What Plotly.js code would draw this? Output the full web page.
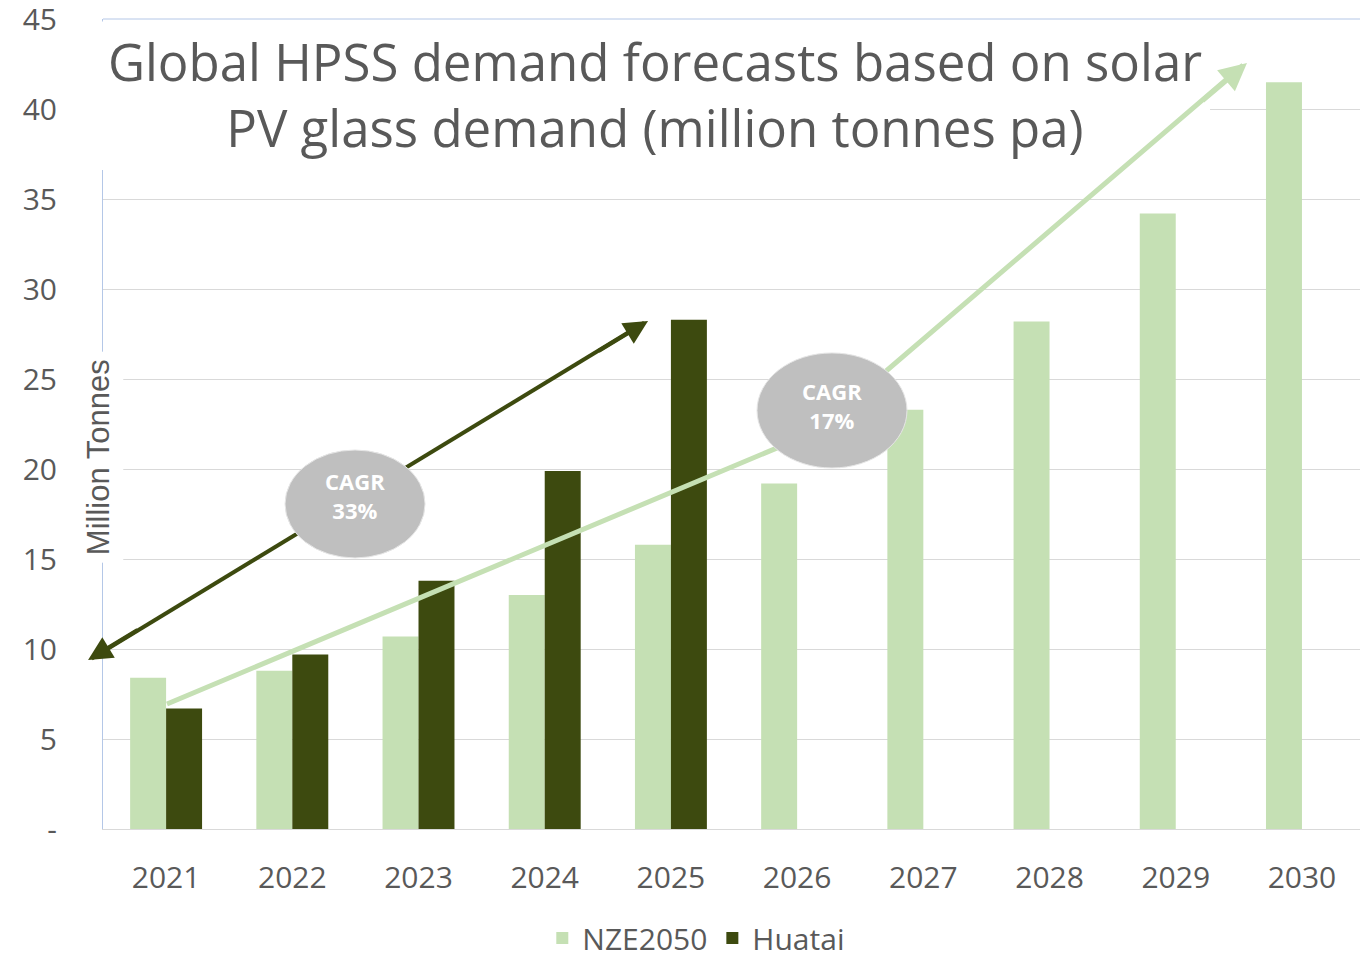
<!DOCTYPE html>
<html>
<head>
<meta charset="utf-8">
<script src="https://cdn.plot.ly/plotly-3.0.1.min.js"></script>
<style>html,body{margin:0;padding:0;background:#fff;}#chart{width:1360px;height:959px;}</style>
</head>
<body>
<div id="chart"></div>
<script>
// ---- data ----
const years = [2021, 2022, 2023, 2024, 2025, 2026, 2027, 2028, 2029, 2030];
const nze2050 = [8.4, 8.8, 10.7, 13.0, 15.8, 19.2, 23.3, 28.2, 34.2, 41.5];
const huataiYears = [2021, 2022, 2023, 2024, 2025];
const huatai = [6.7, 9.7, 13.8, 19.9, 28.3];
const yTickVals = [0, 5, 10, 15, 20, 25, 30, 35, 40, 45];
const yTickText = ['-', '5', '10', '15', '20', '25', '30', '35', '40', '45'];
const cagrLabels = ['CAGR<br>33%', 'CAGR<br>17%'];
const seriesNames = ['NZE2050', 'Huatai'];
const titleText = 'Global HPSS demand forecasts based on solar<br>PV glass demand (million tonnes pa)';

const LIGHT = '#C5E0B4';
const DARK = '#3D4A0F';
const GREY = '#595959';
const FONT = 'Open Sans, Noto Sans, sans-serif';

const traces = [
  {type: 'bar', name: seriesNames[0], x: years, y: nze2050, marker: {color: LIGHT}},
  {type: 'bar', name: seriesNames[1], x: huataiYears, y: huatai, marker: {color: DARK}}
];

const layout = {
  width: 1360, height: 959,
  margin: {l: 103, r: 0, t: 19, b: 130, autoexpand: false},
  paper_bgcolor: '#fff', plot_bgcolor: '#fff',
  font: {family: FONT, color: GREY},
  barmode: 'group', bargap: 0.43, bargroupgap: 0,
  title: {
    text: titleText,
    font: {family: FONT, size: 51, color: GREY},
    x: 0.4816, xanchor: 'center', xref: 'container',
    y: 1 - 81/959, yanchor: 'top', yref: 'container'
  },
  xaxis: {
    type: 'linear', range: [2020.5, 2030.46], automargin: false,
    tickmode: 'array', tickvals: years, ticktext: years.map(String),
    showgrid: false, zeroline: false,
    showline: true, linecolor: '#D9D9D9', linewidth: 1,
    ticks: '', ticklabelstandoff: 22, ticklabeloverflow: 'allow',
    tickfont: {family: FONT, size: 30, color: GREY}
  },
  yaxis: {
    range: [0, 45.01], automargin: false,
    tickmode: 'array', tickvals: yTickVals, ticktext: yTickText,
    showgrid: true, gridcolor: '#D9D9D9', gridwidth: 1, zeroline: false,
    showline: true, linecolor: '#B4C7E7', linewidth: 1,
    ticks: '', ticklabelstandoff: 39, ticklabeloverflow: 'allow',
    tickfont: {family: FONT, size: 30, color: GREY}
  },
  showlegend: true,
  legend: {
    orientation: 'h', x: 0.472, xanchor: 'center', y: -0.1346, yanchor: 'middle',
    font: {family: FONT, size: 30, color: GREY}, bgcolor: 'rgba(0,0,0,0)'
  },
  shapes: [
    // top border line at 45 (blue)
    {type: 'line', xref: 'paper', yref: 'paper', x0: 0, x1: 1, y0: 1, y1: 1, layer: 'above',
     line: {color: '#B4C7E7', width: 1}},
    // white box behind title
    {type: 'rect', xref: 'paper', yref: 'paper', x0: -0.004, x1: 0.8807, y0: 0.8136, y1: 0.997, layer: 'above',
     fillcolor: '#fff', line: {width: 0}},
    // light green CAGR arrow (polyline)
    {type: 'path', xref: 'paper', yref: 'paper', layer: 'above',
     path: 'M 0.0509 0.1543 L 0.5664 0.4901 L 0.9070 0.9430',
     line: {color: LIGHT, width: 5}},
    // dark CAGR arrow line
    {type: 'line', xref: 'paper', yref: 'paper', layer: 'above',
     x0: -0.0090, y0: 0.2105, x1: 0.4306, y1: 0.6250,
     line: {color: DARK, width: 4}},
    // CAGR ellipses
    {type: 'circle', xref: 'paper', yref: 'paper', layer: 'above',
     x0: 0.1448, x1: 0.2562, y0: 0.3346, y1: 0.4679,
     fillcolor: '#BFBFBF', line: {color: '#E6E6E6', width: 1}},
    {type: 'circle', xref: 'paper', yref: 'paper', layer: 'above',
     x0: 0.5203, x1: 0.6396, y0: 0.4457, y1: 0.5877,
     fillcolor: '#BFBFBF', line: {color: '#E6E6E6', width: 1}}
  ],
  annotations: [
    // arrowheads
    {xref: 'paper', yref: 'paper', x: 0.9101, y: 0.9457, ax: -46, ay: 39, text: '', showarrow: true,
     arrowhead: 2, arrowsize: 1.1, arrowwidth: 5, arrowcolor: LIGHT, standoff: 0},
    {xref: 'paper', yref: 'paper', x: 0.4336, y: 0.6272, ax: -51, ay: 31, text: '', showarrow: true,
     arrowhead: 2, arrowsize: 1.2, arrowwidth: 4, arrowcolor: DARK, standoff: 0},
    {xref: 'paper', yref: 'paper', x: -0.0119, y: 0.2086, ax: 51, ay: -31, text: '', showarrow: true,
     arrowhead: 2, arrowsize: 1.2, arrowwidth: 4, arrowcolor: DARK, standoff: 0},
    // CAGR labels
    {xref: 'paper', yref: 'paper', x: 0.2005, y: 0.4112, xanchor: 'center', yanchor: 'middle',
     text: '<b>' + cagrLabels[0] + '</b>', showarrow: false,
     font: {family: FONT, size: 22, color: '#fff'}},
    {xref: 'paper', yref: 'paper', x: 0.5800, y: 0.5225, xanchor: 'center', yanchor: 'middle',
     text: '<b>' + cagrLabels[1] + '</b>', showarrow: false,
     font: {family: FONT, size: 22, color: '#fff'}},
    // y-axis title
    {xref: 'paper', yref: 'paper', x: -0.004, y: 0.459, xanchor: 'center', yanchor: 'middle',
     text: 'Million Tonnes', textangle: -90, showarrow: false, bgcolor: '#fff', borderpad: 7,
     font: {family: 'Liberation Sans, Arial, sans-serif', size: 31, color: GREY}}
  ]
};

Plotly.newPlot('chart', traces, layout, {displayModeBar: false, staticPlot: true});
</script>
</body>
</html>
